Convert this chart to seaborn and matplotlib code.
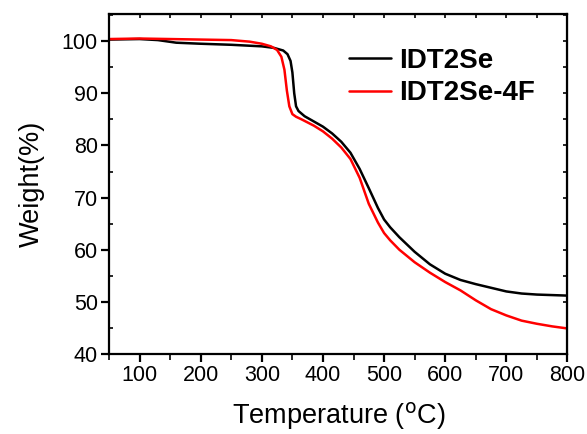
import numpy as np
import pandas as pd
import matplotlib
matplotlib.use("Agg")
import matplotlib.pyplot as plt
import seaborn as sns

# --- data ---
temp_idt2se = [50, 100, 130, 160, 200, 250, 300, 320, 335, 342, 347, 350, 353, 356, 360,
               370, 385, 400, 415, 430, 445, 460, 475, 490, 500, 510, 525, 550, 575, 600,
               625, 650, 675, 700, 725, 750, 775, 800]
weight_idt2se = [100.3, 100.4, 100.2, 99.7, 99.5, 99.3, 99.0, 98.7, 98.2, 97.5, 96.2, 94.0, 90.0,
                 87.5, 86.6, 85.6, 84.6, 83.6, 82.3, 80.7, 78.6, 75.5, 71.8, 68.0, 65.8, 64.3,
                 62.4, 59.6, 57.2, 55.4, 54.2, 53.4, 52.7, 52.0, 51.6, 51.4, 51.3, 51.2]

temp_idt2se_4f = [50, 100, 150, 200, 250, 280, 300, 315, 325, 332, 337, 341, 345, 350, 356,
                  365, 385, 400, 415, 430, 445, 460, 475, 490, 500, 510, 525, 550, 575, 600,
                  625, 650, 675, 700, 725, 750, 775, 800]
weight_idt2se_4f = [100.4, 100.5, 100.4, 100.3, 100.2, 99.9, 99.5, 99.0, 98.3, 97.0, 94.5, 90.5,
                    87.5, 86.0, 85.5, 85.0, 83.8, 82.7, 81.3, 79.6, 77.4, 73.8, 68.8, 65.2, 63.2,
                    61.8, 60.0, 57.6, 55.6, 53.8, 52.2, 50.3, 48.6, 47.4, 46.4, 45.8, 45.3, 44.9]

labels = ["IDT2Se", "IDT2Se-4F"]
colors = {"IDT2Se": "black", "IDT2Se-4F": "#ff0000"}

df = pd.concat([
    pd.DataFrame({"T": temp_idt2se, "W": weight_idt2se, "sample": labels[0]}),
    pd.DataFrame({"T": temp_idt2se_4f, "W": weight_idt2se_4f, "sample": labels[1]}),
])

sns.set_style("ticks")
plt.rcParams["font.family"] = ["Liberation Sans", "DejaVu Sans"]
plt.rcParams["text.color"] = "black"
plt.rcParams["axes.labelcolor"] = "black"

fig = plt.figure(figsize=(5.87, 4.34), dpi=100)
ax = fig.add_axes([0.1857, 0.1843, 0.781, 0.7834])

sns.lineplot(data=df, x="T", y="W", hue="sample", palette=colors, linewidth=1.8,
             sort=False, ax=ax)

ax.set_xlim(50, 800)
ax.set_ylim(40, 105.2)
ax.set_xticks(np.arange(100, 801, 100))
ax.set_xticks(np.arange(50, 801, 50), minor=True)
ax.set_yticks(np.arange(40, 101, 10))
ax.set_yticks(np.arange(45, 106, 5), minor=True)

for s in ax.spines.values():
    s.set_linewidth(1.6)
    s.set_color("black")

ax.tick_params(which="major", direction="out", length=6, width=1.6, labelsize=15.5, pad=2,
               colors="black")
ax.tick_params(axis="x", which="minor", direction="out", length=4, width=1.4)
ax.tick_params(axis="y", which="minor", direction="in", length=3, width=1.4)

# mirrored ticks on top / right
top = ax.secondary_xaxis("top")
top.set_xticks(np.arange(50, 801, 50))
top.tick_params(direction="in", length=3, width=1.4, labeltop=False)
right = ax.secondary_yaxis("right")
right.set_yticks(np.arange(40, 106, 5))
right.tick_params(direction="in", length=3, width=1.4, labelright=False)

ax.set_xlabel("Temperature ($^{\\rm o}$C)", fontsize=19.5, labelpad=10)
ax.set_ylabel("Weight(%)", fontsize=19.5, labelpad=12)

leg = ax.legend(loc="upper left", bbox_to_anchor=(0.47, 0.975), frameon=False,
                prop={"weight": "bold", "size": 20}, handlelength=1.5,
                handletextpad=0.3, labelspacing=0.25)
for h in leg.get_lines():
    h.set_linewidth(1.8)

fig.savefig("out.png", dpi=100)
